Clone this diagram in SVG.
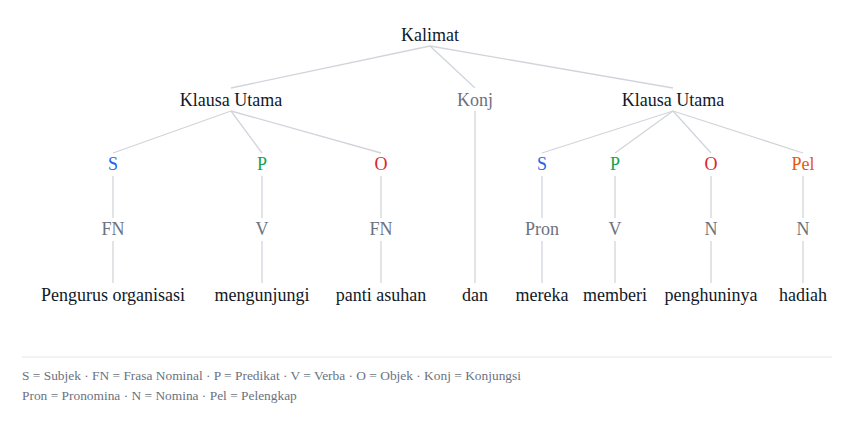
<svg xmlns="http://www.w3.org/2000/svg" width="862" height="422" viewBox="0 0 862 422">
<style>
text{font-family:"Liberation Serif","DejaVu Serif",serif;text-anchor:middle;dominant-baseline:central;font-size:18px}
.w{fill:#111827}
.g{fill:#6b7280}
.s{fill:#2563eb}
.p{fill:#16a34a}
.o{fill:#dc2626}
.pel{fill:#ea580c}
.e line{stroke:#d1d5db;stroke-width:1.3}
.leg{font-size:13.4px;text-anchor:start;fill:#6b7280}
</style>
<rect width="862" height="422" fill="#fff"/>
<g class="e" id="connectors">
<line x1="430" y1="46" x2="231" y2="88"/>
<line x1="430" y1="46" x2="475" y2="88"/>
<line x1="430" y1="46" x2="673" y2="88"/>
<line x1="231" y1="111" x2="113" y2="153"/>
<line x1="231" y1="111" x2="262" y2="153"/>
<line x1="231" y1="111" x2="381" y2="153"/>
<line x1="673" y1="111" x2="542" y2="153"/>
<line x1="673" y1="111" x2="615" y2="153"/>
<line x1="673" y1="111" x2="711" y2="153"/>
<line x1="673" y1="111" x2="803" y2="153"/>
<line x1="113" y1="176" x2="113" y2="218"/>
<line x1="262" y1="176" x2="262" y2="218"/>
<line x1="381" y1="176" x2="381" y2="218"/>
<line x1="542" y1="176" x2="542" y2="218"/>
<line x1="615" y1="176" x2="615" y2="218"/>
<line x1="711" y1="176" x2="711" y2="218"/>
<line x1="803" y1="176" x2="803" y2="218"/>
<line x1="113" y1="241" x2="113" y2="283"/>
<line x1="262" y1="241" x2="262" y2="283"/>
<line x1="381" y1="241" x2="381" y2="283"/>
<line x1="542" y1="241" x2="542" y2="283"/>
<line x1="615" y1="241" x2="615" y2="283"/>
<line x1="711" y1="241" x2="711" y2="283"/>
<line x1="803" y1="241" x2="803" y2="283"/>
<line x1="475" y1="111" x2="475" y2="283"/>
</g>
<g id="kalimat"><text class="w" x="430" y="35">Kalimat</text></g>
<g id="klausa1"><text class="w" x="231" y="100">Klausa Utama</text></g>
<g id="konj"><text class="g" x="475" y="100">Konj</text></g>
<g id="klausa2"><text class="w" x="673" y="100">Klausa Utama</text></g>
<g id="s1"><text class="s" x="113" y="164">S</text></g>
<g id="p1"><text class="p" x="262" y="164">P</text></g>
<g id="o1"><text class="o" x="381" y="164">O</text></g>
<g id="s2"><text class="s" x="542" y="164">S</text></g>
<g id="p2"><text class="p" x="615" y="164">P</text></g>
<g id="o2"><text class="o" x="711" y="164">O</text></g>
<g id="pel"><text class="pel" x="803" y="164">Pel</text></g>
<g id="fn1"><text class="g" x="113" y="229">FN</text></g>
<g id="v1"><text class="g" x="262" y="229">V</text></g>
<g id="fn2"><text class="g" x="381" y="229">FN</text></g>
<g id="pron"><text class="g" x="542" y="229">Pron</text></g>
<g id="v2"><text class="g" x="615" y="229">V</text></g>
<g id="n1"><text class="g" x="711" y="229">N</text></g>
<g id="n2"><text class="g" x="803" y="229">N</text></g>
<g id="w1"><text class="w" x="113" y="295">Pengurus organisasi</text></g>
<g id="w2"><text class="w" x="262" y="295">mengunjungi</text></g>
<g id="w3"><text class="w" x="381" y="295">panti asuhan</text></g>
<g id="w4"><text class="w" x="475" y="295">dan</text></g>
<g id="w5"><text class="w" x="542" y="295">mereka</text></g>
<g id="w6"><text class="w" x="615" y="295">memberi</text></g>
<g id="w7"><text class="w" x="711" y="295">penghuninya</text></g>
<g id="w8"><text class="w" x="803" y="295">hadiah</text></g>
<line x1="22" y1="357" x2="832" y2="357" stroke="#e5e7eb" stroke-width="1"/>
<g id="legend">
<text class="leg" x="22" y="375">S = Subjek · FN = Frasa Nominal · P = Predikat · V = Verba · O = Objek · Konj = Konjungsi</text>
<text class="leg" x="22" y="395">Pron = Pronomina · N = Nomina · Pel = Pelengkap</text>
</g>
</svg>
